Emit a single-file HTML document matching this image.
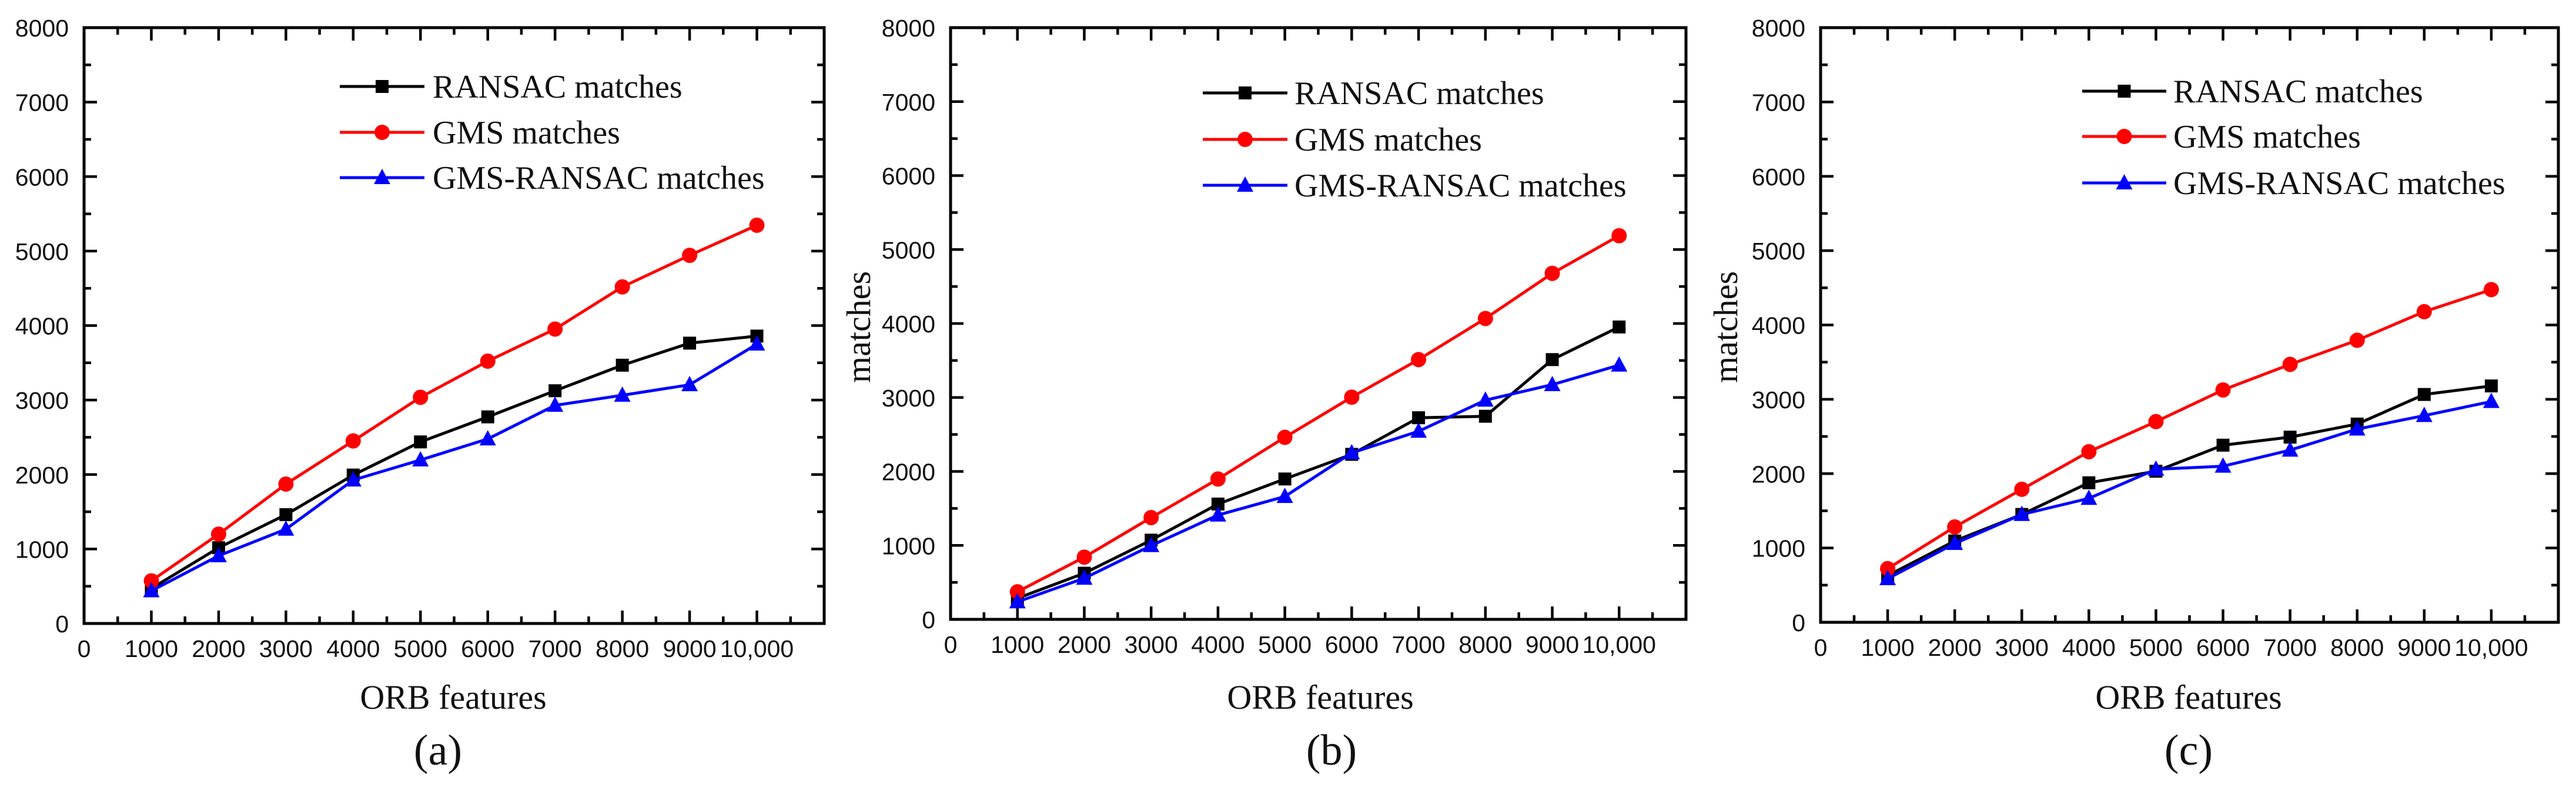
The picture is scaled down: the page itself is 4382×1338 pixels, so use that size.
<!DOCTYPE html>
<html><head><meta charset="utf-8"><style>
html,body{margin:0;padding:0;background:#fff;}
svg{display:block;}
</style></head><body>
<svg id="fig" width="4382" height="1338" viewBox="0 0 4382 1338" xmlns="http://www.w3.org/2000/svg"></svg>
<script>
const features = [1000,2000,3000,4000,5000,6000,7000,8000,9000,10000];
const xTickLabels = ["0","1000","2000","3000","4000","5000","6000","7000","8000","9000","10,000"];
const yTickLabels = ["0","1000","2000","3000","4000","5000","6000","7000","8000"];
const seriesNames = ["RANSAC matches","GMS matches","GMS-RANSAC matches"];
const aRansac = [470,1017,1461,1993,2438,2774,3125,3468,3764,3859];
const aGms = [572,1199,1872,2451,3037,3522,3953,4519,4943,5347];
const aGmsRansac = [438,909,1266,1926,2195,2478,2929,3064,3205,3751];
const bRansac = [285,624,1071,1559,1898,2231,2726,2746,3512,3953];
const bGms = [373,841,1376,1898,2461,3004,3512,4068,4678,5187];
const bGmsRansac = [237,556,997,1410,1661,2251,2543,2963,3173,3437];
const cRansac = [628,1094,1451,1877,2032,2383,2491,2667,3065,3180];
const cGms = [722,1283,1789,2295,2700,3126,3470,3794,4179,4476];
const cGmsRansac = [587,1060,1451,1667,2059,2100,2316,2599,2781,2970];

const NS="http://www.w3.org/2000/svg";
const svg=document.getElementById('fig');
function mk(tag,attrs,parent){const e=document.createElementNS(NS,tag);for(const k in attrs)e.setAttribute(k,attrs[k]);(parent||svg).appendChild(e);return e;}

const panels=[
 {id:'a',L:143,R:1402,T:47,B:1060,ys:[aRansac,aGms,aGmsRansac],leg:{x1:578,x2:722,tx:736,rows:[147,225,302]},xt:771,lab:745,ytitle:null},
 {id:'b',L:1617,R:2868,T:47,B:1053,ys:[bRansac,bGms,bGmsRansac],leg:{x1:2046,x2:2190,tx:2202,rows:[158,237,315]},xt:2246,lab:2265,ytitle:1462},
 {id:'c',L:3097,R:4352,T:47,B:1058,ys:[cRansac,cGms,cGmsRansac],leg:{x1:3542,x2:3685,tx:3697,rows:[155,232,311]},xt:3723,lab:3723,ytitle:2937}
];
const colors=["#000000","#ff0000","#0000ff"];
const markers=["square","circle","triangle"];

function marker(g,type,x,y,color){
  let m;
  if(type==="square"){m=mk('rect',{x:x-11,y:y-11,width:22,height:22,fill:color},g);}
  else if(type==="circle"){m=mk('circle',{cx:x,cy:y,r:13,fill:color},g);}
  else {m=mk('polygon',{points:`${x},${y-15} ${x-14},${y+11} ${x+14},${y+11}`,fill:color},g);}
  return m;
}

panels.forEach(p=>{
  const g=mk('g',{});
  
  
  const xS=v=>p.L+(v/11000)*(p.R-p.L);
  const yS=v=>p.B-(v/8000)*(p.B-p.T);
  const fr=mk('rect',{x:p.L,y:p.T,width:p.R-p.L,height:p.B-p.T,fill:'none',stroke:'#000','stroke-width':5},g);
  
  
  for(let v=0;v<=11000;v+=500){
    const major=v%1000===0, len=major?22:12, x=xS(v);
    mk('line',{x1:x,y1:p.B,x2:x,y2:p.B-len,stroke:'#000','stroke-width':4.5},g);
    mk('line',{x1:x,y1:p.T,x2:x,y2:p.T+len,stroke:'#000','stroke-width':4.5},g);
  }
  for(let v=0;v<=8000;v+=500){
    const major=v%1000===0, len=major?22:12, y=yS(v);
    mk('line',{x1:p.L,y1:y,x2:p.L+len,y2:y,stroke:'#000','stroke-width':4.5},g);
    mk('line',{x1:p.R,y1:y,x2:p.R-len,y2:y,stroke:'#000','stroke-width':4.5},g);
  }
  xTickLabels.forEach((t,i)=>{
    const el=mk('text',{x:xS(i*1000),y:p.B+57,'text-anchor':'middle','font-family':'Liberation Sans, Arial, sans-serif','font-size':41,fill:'#111'},g);
    el.textContent=t;
    
    
  });
  yTickLabels.forEach((t,i)=>{
    const el=mk('text',{x:p.L-26,y:yS(i*1000)+15,'text-anchor':'end','font-family':'Liberation Sans, Arial, sans-serif','font-size':41,fill:'#111'},g);
    el.textContent=t;
    
    
  });
  p.ys.forEach((vals,si)=>{
    const sg=mk('g',{},g);
    
    
    const pts=vals.map((v,i)=>xS(features[i])+','+yS(v)).join(' ');
    mk('polyline',{points:pts,fill:'none',stroke:colors[si],'stroke-width':5,'stroke-linejoin':'round'},sg);
    vals.forEach((v,i)=>{
      const m=marker(sg,markers[si],xS(features[i]),yS(v),colors[si]);
      
      
    });
  });
  const lg=mk('g',{},g);
  
  
  seriesNames.forEach((n,si)=>{
    const y=p.leg.rows[si];
    const eg=mk('g',{},lg);
    
    
    mk('line',{x1:p.leg.x1,y1:y,x2:p.leg.x2,y2:y,stroke:colors[si],'stroke-width':5},eg);
    marker(eg,markers[si],(p.leg.x1+p.leg.x2)/2,y,colors[si]);
    const t=mk('text',{x:p.leg.tx,y:y+19,'font-family':'Liberation Serif, serif','font-size':56,fill:'#111'},eg);
    t.textContent=n;
  });
  const xt=mk('text',{x:p.xt,y:1205,'text-anchor':'middle','font-family':'Liberation Serif, serif','font-size':58,fill:'#111'},g);
  xt.textContent='ORB features';
  
  
  const lb=mk('text',{x:p.lab,y:1300,'text-anchor':'middle','font-family':'Liberation Serif, serif','font-size':74,fill:'#111'},g);
  lb.textContent='('+p.id+')';
  
  
  if(p.ytitle!==null){
    const yt=mk('text',{x:0,y:0,'text-anchor':'middle','font-family':'Liberation Serif, serif','font-size':58,fill:'#111',transform:`translate(${p.ytitle+18},556) rotate(-90)`},g);
    yt.textContent='matches';
    
    
  }
});
</script>
</body></html>
